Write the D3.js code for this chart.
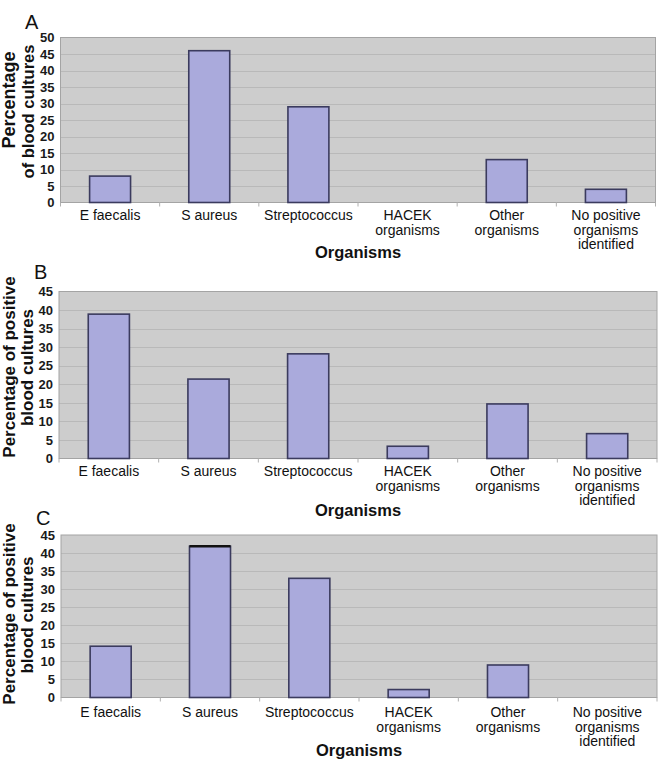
<!DOCTYPE html>
<html>
<head>
<meta charset="utf-8">
<script src="https://cdn.jsdelivr.net/npm/d3@7"></script>
<style>
  html, body { margin: 0; padding: 0; background: #ffffff; }
  svg { display: block; font-family: "Liberation Sans", Arial, Helvetica, sans-serif; }
</style>
</head>
<body>
<svg id="chart" width="661" height="765"></svg>
<script>
// ---- data ----
const categories = ["E faecalis", "S aureus", "Streptococcus", "HACEK organisms", "Other organisms", "No positive organisms identified"];
const categoryLabelLines = [["E faecalis"], ["S aureus"], ["Streptococcus"], ["HACEK", "organisms"], ["Other", "organisms"], ["No positive", "organisms", "identified"]];
const valuesA = [8, 46, 29, 0, 13, 4];
const valuesB = [38.9, 21.4, 28.2, 3.3, 14.7, 6.7];
const valuesC = [14.2, 41.9, 33, 2.2, 9, 0];
const yTicksA = [0, 5, 10, 15, 20, 25, 30, 35, 40, 45, 50];
const yTicksBC = [0, 5, 10, 15, 20, 25, 30, 35, 40, 45];
const panelLetters = ["A", "B", "C"];
const yTitlesA = ["Percentage", "of blood cultures"];
const yTitlesBC = ["Percentage of positive", "blood cultures"];
const xTitle = "Organisms";

// ---- layout ----
const panels = [
  { letter: panelLetters[0], values: valuesA, ticks: yTicksA, ymax: 50,
    left: 60.5, right: 655.5, top: 37.5, bottom: 202.5,
    letterX: 25, letterY: 29, labelOffset: 17.5, titleOffset: 55.5,
    yTitles: yTitlesA, yTitleX: [15, 34], yTitleY: [100, 111.5], yTitleSize: [18, 16.5] },
  { letter: panelLetters[1], values: valuesB, ticks: yTicksBC, ymax: 45,
    left: 59, right: 657, top: 291.5, bottom: 458.5,
    letterX: 34, letterY: 279, labelOffset: 17.5, titleOffset: 57.5,
    yTitles: yTitlesBC, yTitleX: [15, 33], yTitleY: [367, 367.5], yTitleSize: [17, 17] },
  { letter: panelLetters[2], values: valuesC, ticks: yTicksBC, ymax: 45,
    left: 61, right: 657, top: 535, bottom: 697.5,
    letterX: 36, letterY: 525, labelOffset: 19.5, titleOffset: 58.5,
    yTitles: yTitlesBC, yTitleX: [15, 33], yTitleY: [614, 615], yTitleSize: [17, 17],
    emphasizeTop: "S aureus" }
];

const svg = d3.select("#chart");

panels.forEach(p => {
  const g = svg.append("g");
  const x = d3.scaleBand().domain(categories).range([p.left, p.right])
    .paddingInner(0.587).paddingOuter(0.2935);
  const y = d3.scaleLinear().domain([0, p.ymax]).range([p.bottom, p.top]);

  // plot background
  g.append("rect")
    .attr("x", p.left).attr("y", p.top)
    .attr("width", p.right - p.left).attr("height", p.bottom - p.top)
    .attr("fill", "#cdcdcd");

  // gridlines
  g.append("g").selectAll("line")
    .data(p.ticks.filter(t => t > 0 && t < p.ymax))
    .join("line")
    .attr("x1", p.left).attr("x2", p.right)
    .attr("y1", d => Math.round(y(d)) + 0.5).attr("y2", d => Math.round(y(d)) + 0.5)
    .attr("stroke", "#b9b9b9").attr("stroke-width", 1);

  // border
  g.append("rect")
    .attr("x", p.left).attr("y", p.top)
    .attr("width", p.right - p.left).attr("height", p.bottom - p.top)
    .attr("fill", "none").attr("stroke", "#a4a4a4").attr("stroke-width", 1);

  // small x-axis ticks at category boundaries
  const step = x.step();
  g.append("g").selectAll("line")
    .data(d3.range(categories.length + 1))
    .join("line")
    .attr("x1", i => p.left + i * step).attr("x2", i => p.left + i * step)
    .attr("y1", p.bottom).attr("y2", p.bottom + 4)
    .attr("stroke", "#b0b0b0");

  // bars
  const data = categories.map((c, i) => ({ c, v: p.values[i] }));
  g.append("g").selectAll("rect")
    .data(data.filter(d => d.v > 0))
    .join("rect")
    .attr("x", d => x(d.c))
    .attr("y", d => y(d.v))
    .attr("width", x.bandwidth())
    .attr("height", d => y(0) - y(d.v))
    .attr("fill", "#aaaadc")
    .attr("stroke", "#3b3b5e")
    .attr("stroke-width", 1.6);

  if (p.emphasizeTop) {
    const d = data.find(e => e.c === p.emphasizeTop);
    g.append("line")
      .attr("x1", x(d.c)).attr("x2", x(d.c) + x.bandwidth())
      .attr("y1", y(d.v)).attr("y2", y(d.v))
      .attr("stroke", "#111").attr("stroke-width", 2.6);
  }

  // y axis labels
  const yAxis = d3.axisLeft(y).tickValues(p.ticks).tickSize(0).tickPadding(6);
  const ya = g.append("g").attr("transform", `translate(${p.left},0)`).call(yAxis);
  ya.select(".domain").remove();
  ya.selectAll("text")
    .attr("font-size", 13).attr("font-weight", "bold").attr("fill", "#1a1a1a")
    .attr("font-family", "'Liberation Sans', Arial, sans-serif");

  // category labels
  const cl = g.append("g").selectAll("text")
    .data(categories)
    .join("text")
    .attr("text-anchor", "middle")
    .attr("font-size", 14)
    .attr("fill", "#111");
  cl.each(function(c, i) {
    const t = d3.select(this);
    categoryLabelLines[i].forEach((line, k) => {
      t.append("tspan")
        .attr("x", x(c) + x.bandwidth() / 2)
        .attr("y", p.bottom + p.labelOffset + k * 14.5)
        .text(line);
    });
  });

  // x title
  g.append("text")
    .attr("x", (p.left + p.right) / 2)
    .attr("y", p.bottom + p.titleOffset)
    .attr("text-anchor", "middle")
    .attr("font-size", 16.5).attr("font-weight", "bold").attr("fill", "#111")
    .text(xTitle);

  // y titles (rotated)
  p.yTitles.forEach((line, k) => {
    g.append("text")
      .attr("transform", `translate(${p.yTitleX[k]},${p.yTitleY[k]}) rotate(-90)`)
      .attr("text-anchor", "middle")
      .attr("font-size", p.yTitleSize[k]).attr("font-weight", "bold")
      .attr("fill", "#111")
      .text(line);
  });

  // panel letter
  g.append("text")
    .attr("x", p.letterX).attr("y", p.letterY)
    .attr("font-size", 20).attr("fill", "#111")
    .text(p.letter);
});
</script>
</body>
</html>
